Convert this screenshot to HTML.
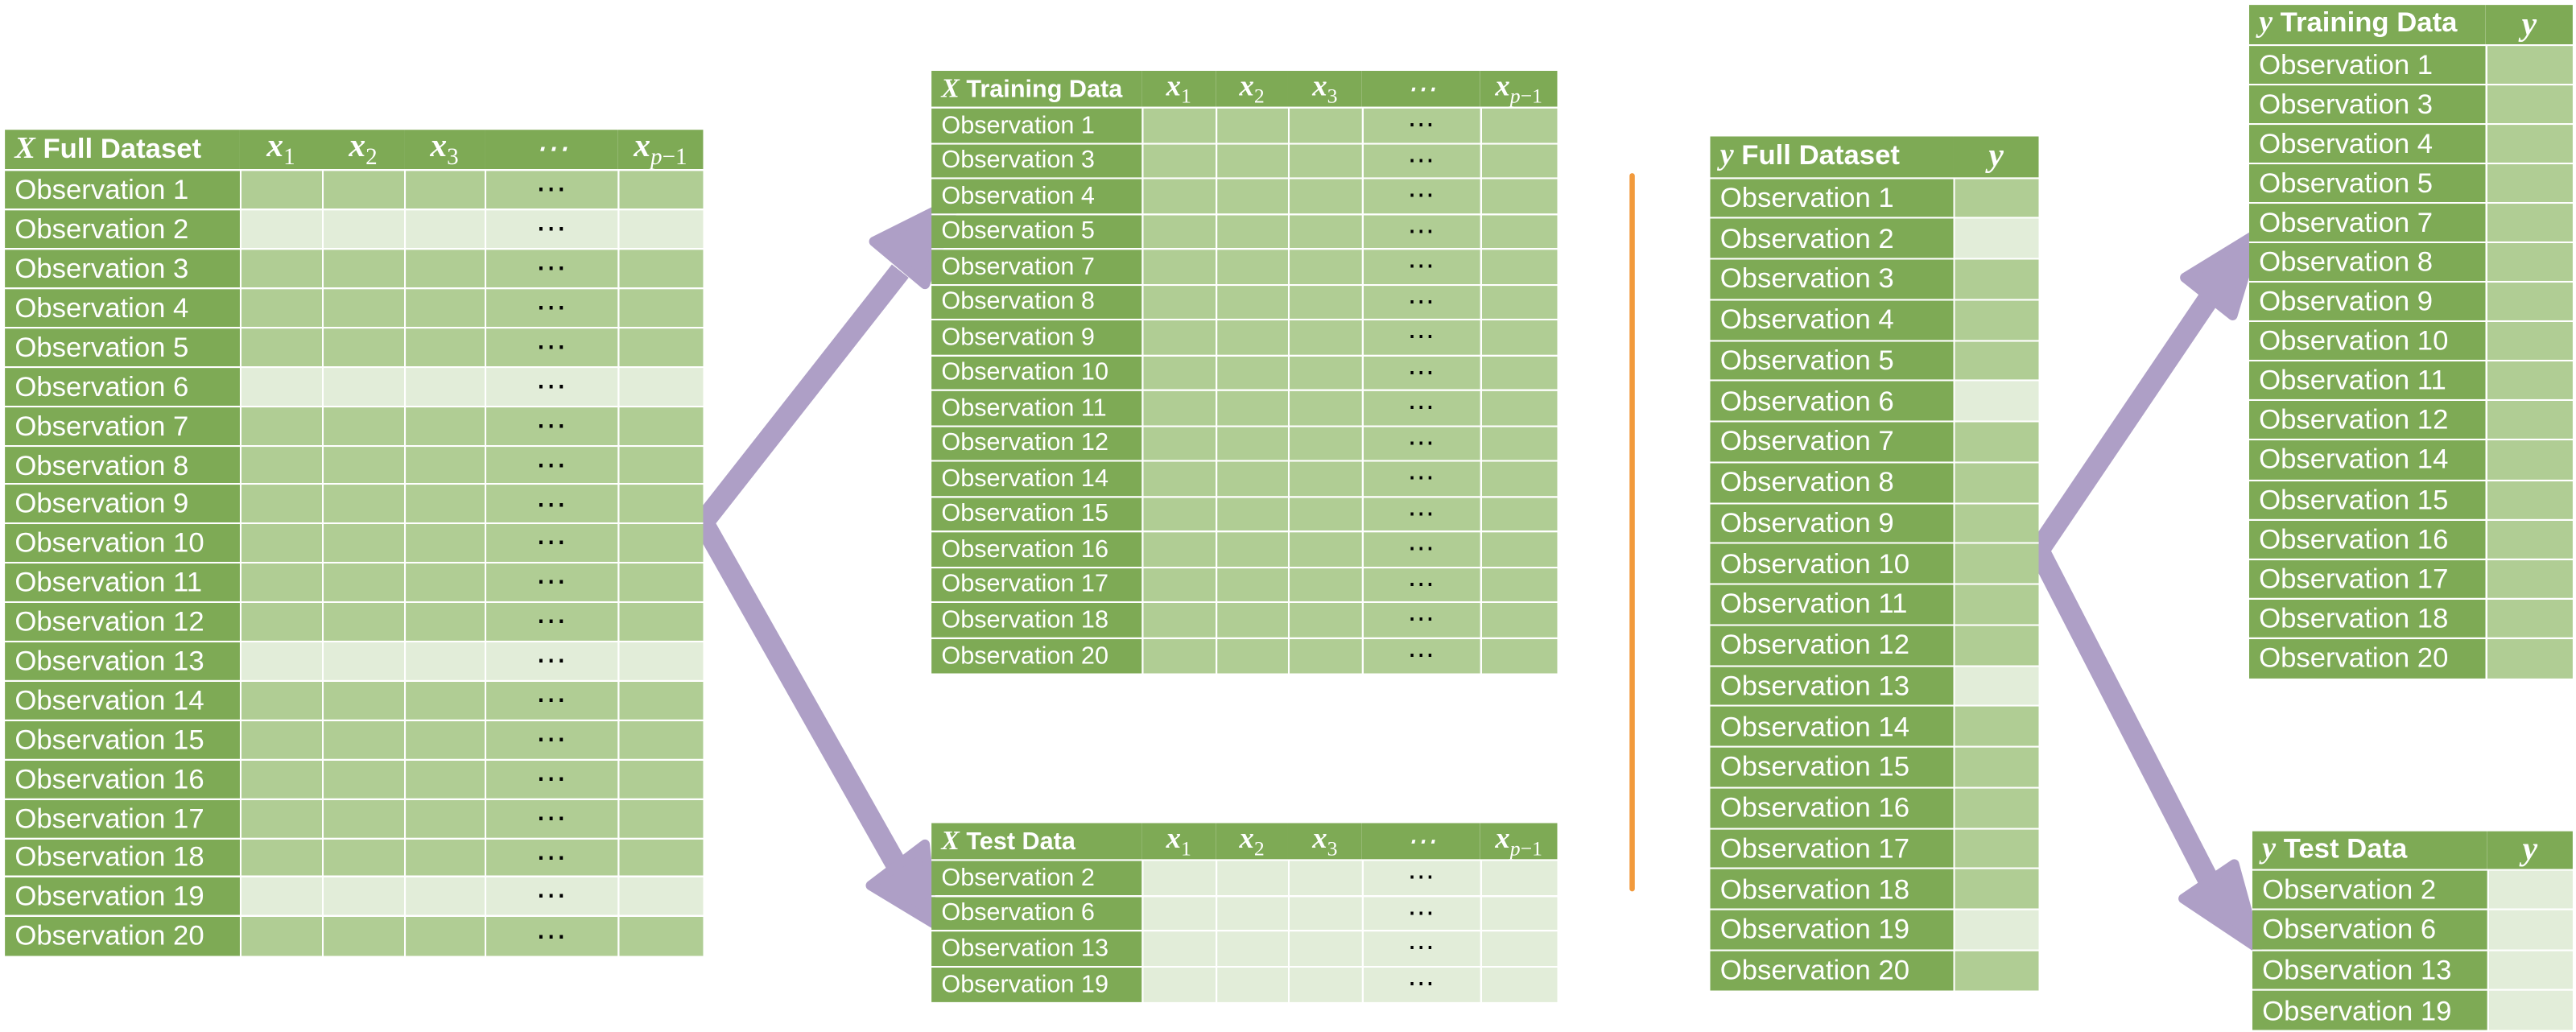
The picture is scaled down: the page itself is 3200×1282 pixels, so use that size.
<!DOCTYPE html>
<html><head><meta charset="utf-8">
<style>
html,body{margin:0;padding:0;background:#fff;width:3200px;height:1280px;overflow:hidden}
#w{position:absolute;left:0;top:0;width:1568px;height:628px;transform:scale(2.0408);transform-origin:0 0}
.t{position:absolute;border-collapse:collapse;table-layout:fixed;font-family:"Liberation Sans",sans-serif;color:#fff}
.t td{border:1px solid #fff;padding:0;white-space:nowrap;overflow:hidden;background:#b0cd94;color:#000;text-align:center;line-height:1}
.t td.l{background:#7eaa55;color:#fff;text-align:left;padding-left:6px;border-left:none}
.t tr.h td{background:#7eaa55;color:#fff;border-left:none;border-right:none;border-top:none;font-weight:bold}
.t tr.h td.m{font-family:"Liberation Serif",serif;font-style:italic;font-weight:normal;text-align:center;font-size:120%}
.t tr.h td.m sub{font-style:normal;font-size:70%}
.t tr.h td.m sub i{font-style:italic}
.t tr.w td{background:#e2edd9}
.t tr.w td.l{background:#7eaa55}
.t tr td:last-child{border-right:none}
.t tr:last-child td{border-bottom:none}
.mi{font-family:"Liberation Serif",serif;font-style:italic;font-weight:bold;font-size:110%}
.xf{left:3px;top:79px;width:425px;font-size:17px}
.xf tr{height:23.9px}
.xf tr.h{height:24px}
.xt{left:567px;width:381px;font-size:15px}
.xt tr{height:21.5px}
.xt tr.h{height:21px}
.yf{left:1041px;top:83px;width:200px;font-size:17px}
.yf tr{height:24.75px}
.yf tr.h{height:25px}
.yt{left:1369px;top:3px;width:197px;font-size:17px}
.yt tr{height:24.1px}
.yt tr.h{height:24px}
.ys{left:1371px;top:506px;width:195px;font-size:17px}
.ys tr{height:24.5px}
.ys tr.h{height:23px}
.d{font-weight:normal;font-size:110%}
</style></head><body><div id="w">
<svg width="1568" height="628" style="position:absolute;left:0;top:0">
<g fill="#ae9fc6" stroke="#ae9fc6" stroke-linejoin="round">
<line x1="428" y1="318" x2="548" y2="165" stroke-width="13"/>
<polygon points="532,147 563,173 582,122" stroke-width="6"/>
<line x1="428" y1="318" x2="546" y2="527" stroke-width="13"/>
<polygon points="530,539 563,514 568,562" stroke-width="6"/>
<line x1="1241" y1="335" x2="1345" y2="181" stroke-width="13"/>
<polygon points="1330,169 1359,192 1374,142" stroke-width="6"/>
<line x1="1241" y1="335" x2="1345" y2="537" stroke-width="13"/>
<polygon points="1329,547 1360,526 1374,577" stroke-width="6"/>
</g>
<line x1="993.5" y1="107" x2="993.5" y2="541" stroke="#f29a3c" stroke-width="3.2" stroke-linecap="round"/>
</svg>

<table class="t xf">
<colgroup><col style="width:143px"><col style="width:50px"><col style="width:50px"><col style="width:49px"><col style="width:81px"><col style="width:52px"></colgroup>
<tr class="h"><td class="l"><span class="mi">X</span> Full Dataset</td><td class="m"><b>x</b><sub>1</sub></td><td class="m"><b>x</b><sub>2</sub></td><td class="m"><b>x</b><sub>3</sub></td><td class="m">⋯</td><td class="m"><b>x</b><sub><i>p</i>−1</sub></td></tr>
<tr><td class="l">Observation 1</td><td></td><td></td><td></td><td class="d">⋯</td><td></td></tr>
<tr class="w"><td class="l">Observation 2</td><td></td><td></td><td></td><td class="d">⋯</td><td></td></tr>
<tr><td class="l">Observation 3</td><td></td><td></td><td></td><td class="d">⋯</td><td></td></tr>
<tr><td class="l">Observation 4</td><td></td><td></td><td></td><td class="d">⋯</td><td></td></tr>
<tr><td class="l">Observation 5</td><td></td><td></td><td></td><td class="d">⋯</td><td></td></tr>
<tr class="w"><td class="l">Observation 6</td><td></td><td></td><td></td><td class="d">⋯</td><td></td></tr>
<tr><td class="l">Observation 7</td><td></td><td></td><td></td><td class="d">⋯</td><td></td></tr>
<tr><td class="l">Observation 8</td><td></td><td></td><td></td><td class="d">⋯</td><td></td></tr>
<tr><td class="l">Observation 9</td><td></td><td></td><td></td><td class="d">⋯</td><td></td></tr>
<tr><td class="l">Observation 10</td><td></td><td></td><td></td><td class="d">⋯</td><td></td></tr>
<tr><td class="l">Observation 11</td><td></td><td></td><td></td><td class="d">⋯</td><td></td></tr>
<tr><td class="l">Observation 12</td><td></td><td></td><td></td><td class="d">⋯</td><td></td></tr>
<tr class="w"><td class="l">Observation 13</td><td></td><td></td><td></td><td class="d">⋯</td><td></td></tr>
<tr><td class="l">Observation 14</td><td></td><td></td><td></td><td class="d">⋯</td><td></td></tr>
<tr><td class="l">Observation 15</td><td></td><td></td><td></td><td class="d">⋯</td><td></td></tr>
<tr><td class="l">Observation 16</td><td></td><td></td><td></td><td class="d">⋯</td><td></td></tr>
<tr><td class="l">Observation 17</td><td></td><td></td><td></td><td class="d">⋯</td><td></td></tr>
<tr><td class="l">Observation 18</td><td></td><td></td><td></td><td class="d">⋯</td><td></td></tr>
<tr class="w"><td class="l">Observation 19</td><td></td><td></td><td></td><td class="d">⋯</td><td></td></tr>
<tr><td class="l">Observation 20</td><td></td><td></td><td></td><td class="d">⋯</td><td></td></tr>
</table>

<table class="t xt" style="top:43px">
<colgroup><col style="width:128px"><col style="width:45px"><col style="width:44px"><col style="width:45px"><col style="width:72px"><col style="width:47px"></colgroup>
<tr class="h"><td class="l"><span class="mi">X</span> Training Data</td><td class="m"><b>x</b><sub>1</sub></td><td class="m"><b>x</b><sub>2</sub></td><td class="m"><b>x</b><sub>3</sub></td><td class="m">⋯</td><td class="m"><b>x</b><sub><i>p</i>−1</sub></td></tr>
<tr><td class="l">Observation 1</td><td></td><td></td><td></td><td class="d">⋯</td><td></td></tr>
<tr><td class="l">Observation 3</td><td></td><td></td><td></td><td class="d">⋯</td><td></td></tr>
<tr><td class="l">Observation 4</td><td></td><td></td><td></td><td class="d">⋯</td><td></td></tr>
<tr><td class="l">Observation 5</td><td></td><td></td><td></td><td class="d">⋯</td><td></td></tr>
<tr><td class="l">Observation 7</td><td></td><td></td><td></td><td class="d">⋯</td><td></td></tr>
<tr><td class="l">Observation 8</td><td></td><td></td><td></td><td class="d">⋯</td><td></td></tr>
<tr><td class="l">Observation 9</td><td></td><td></td><td></td><td class="d">⋯</td><td></td></tr>
<tr><td class="l">Observation 10</td><td></td><td></td><td></td><td class="d">⋯</td><td></td></tr>
<tr><td class="l">Observation 11</td><td></td><td></td><td></td><td class="d">⋯</td><td></td></tr>
<tr><td class="l">Observation 12</td><td></td><td></td><td></td><td class="d">⋯</td><td></td></tr>
<tr><td class="l">Observation 14</td><td></td><td></td><td></td><td class="d">⋯</td><td></td></tr>
<tr><td class="l">Observation 15</td><td></td><td></td><td></td><td class="d">⋯</td><td></td></tr>
<tr><td class="l">Observation 16</td><td></td><td></td><td></td><td class="d">⋯</td><td></td></tr>
<tr><td class="l">Observation 17</td><td></td><td></td><td></td><td class="d">⋯</td><td></td></tr>
<tr><td class="l">Observation 18</td><td></td><td></td><td></td><td class="d">⋯</td><td></td></tr>
<tr><td class="l">Observation 20</td><td></td><td></td><td></td><td class="d">⋯</td><td></td></tr>
</table>

<table class="t xt" style="top:501px">
<colgroup><col style="width:128px"><col style="width:45px"><col style="width:44px"><col style="width:45px"><col style="width:72px"><col style="width:47px"></colgroup>
<tr class="h"><td class="l"><span class="mi">X</span> Test Data</td><td class="m"><b>x</b><sub>1</sub></td><td class="m"><b>x</b><sub>2</sub></td><td class="m"><b>x</b><sub>3</sub></td><td class="m">⋯</td><td class="m"><b>x</b><sub><i>p</i>−1</sub></td></tr>
<tr class="w"><td class="l">Observation 2</td><td></td><td></td><td></td><td class="d">⋯</td><td></td></tr>
<tr class="w"><td class="l">Observation 6</td><td></td><td></td><td></td><td class="d">⋯</td><td></td></tr>
<tr class="w"><td class="l">Observation 13</td><td></td><td></td><td></td><td class="d">⋯</td><td></td></tr>
<tr class="w"><td class="l">Observation 19</td><td></td><td></td><td></td><td class="d">⋯</td><td></td></tr>
</table>

<table class="t yf">
<colgroup><col style="width:148px"><col style="width:52px"></colgroup>
<tr class="h"><td class="l"><span class="mi">y</span> Full Dataset</td><td class="m"><b>y</b></td></tr>
<tr><td class="l">Observation 1</td><td></td></tr>
<tr class="w"><td class="l">Observation 2</td><td></td></tr>
<tr><td class="l">Observation 3</td><td></td></tr>
<tr><td class="l">Observation 4</td><td></td></tr>
<tr><td class="l">Observation 5</td><td></td></tr>
<tr class="w"><td class="l">Observation 6</td><td></td></tr>
<tr><td class="l">Observation 7</td><td></td></tr>
<tr><td class="l">Observation 8</td><td></td></tr>
<tr><td class="l">Observation 9</td><td></td></tr>
<tr><td class="l">Observation 10</td><td></td></tr>
<tr><td class="l">Observation 11</td><td></td></tr>
<tr><td class="l">Observation 12</td><td></td></tr>
<tr class="w"><td class="l">Observation 13</td><td></td></tr>
<tr><td class="l">Observation 14</td><td></td></tr>
<tr><td class="l">Observation 15</td><td></td></tr>
<tr><td class="l">Observation 16</td><td></td></tr>
<tr><td class="l">Observation 17</td><td></td></tr>
<tr><td class="l">Observation 18</td><td></td></tr>
<tr class="w"><td class="l">Observation 19</td><td></td></tr>
<tr><td class="l">Observation 20</td><td></td></tr>
</table>

<table class="t yt">
<colgroup><col style="width:144px"><col style="width:53px"></colgroup>
<tr class="h"><td class="l"><span class="mi">y</span> Training Data</td><td class="m"><b>y</b></td></tr>
<tr><td class="l">Observation 1</td><td></td></tr>
<tr><td class="l">Observation 3</td><td></td></tr>
<tr><td class="l">Observation 4</td><td></td></tr>
<tr><td class="l">Observation 5</td><td></td></tr>
<tr><td class="l">Observation 7</td><td></td></tr>
<tr><td class="l">Observation 8</td><td></td></tr>
<tr><td class="l">Observation 9</td><td></td></tr>
<tr><td class="l">Observation 10</td><td></td></tr>
<tr><td class="l">Observation 11</td><td></td></tr>
<tr><td class="l">Observation 12</td><td></td></tr>
<tr><td class="l">Observation 14</td><td></td></tr>
<tr><td class="l">Observation 15</td><td></td></tr>
<tr><td class="l">Observation 16</td><td></td></tr>
<tr><td class="l">Observation 17</td><td></td></tr>
<tr><td class="l">Observation 18</td><td></td></tr>
<tr><td class="l">Observation 20</td><td></td></tr>
</table>

<table class="t ys">
<colgroup><col style="width:143px"><col style="width:52px"></colgroup>
<tr class="h"><td class="l"><span class="mi">y</span> Test Data</td><td class="m"><b>y</b></td></tr>
<tr class="w"><td class="l">Observation 2</td><td></td></tr>
<tr class="w"><td class="l">Observation 6</td><td></td></tr>
<tr class="w"><td class="l">Observation 13</td><td></td></tr>
<tr class="w"><td class="l">Observation 19</td><td></td></tr>
</table>
</div></body></html>
